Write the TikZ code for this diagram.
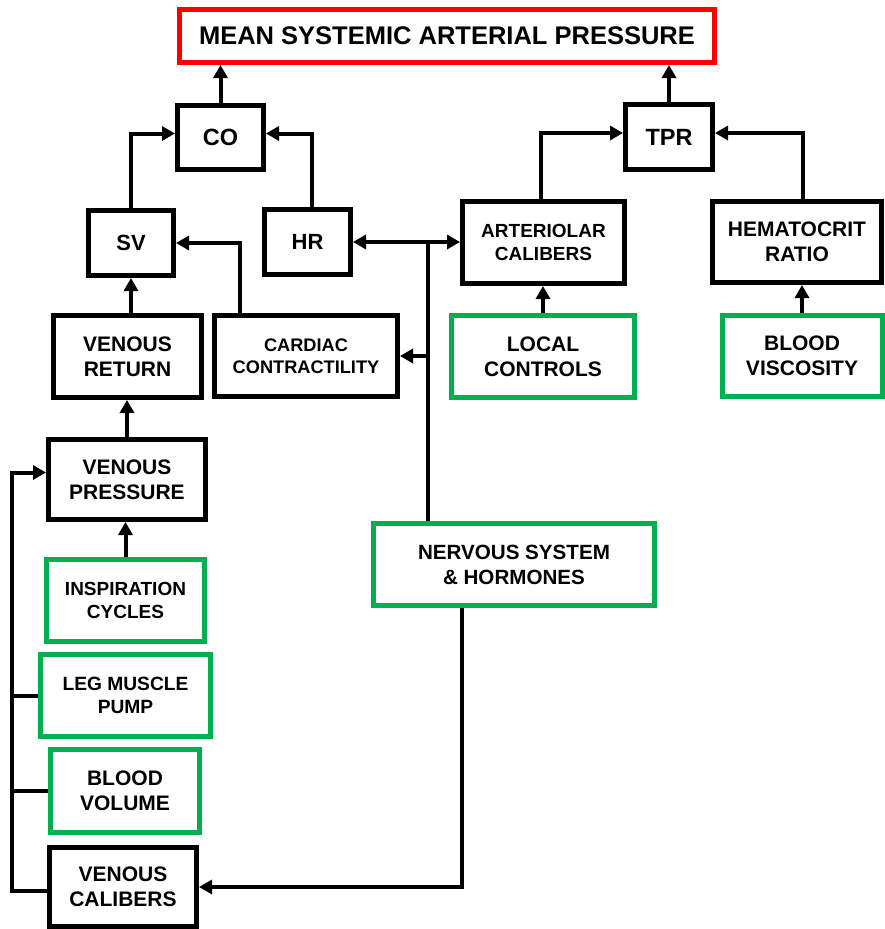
\documentclass[tikz,border=0pt]{standalone}
\usepackage{fontspec}
\setmainfont{Liberation Sans}
\usetikzlibrary{arrows.meta, positioning}

\definecolor{mapred}{RGB}{255,0,0}
\definecolor{ctrlgreen}{RGB}{0,176,80}

\begin{document}
\begin{tikzpicture}[
    x=1pt, y=-1pt,
    >={Triangle[length=13pt, width=14pt]},
    blackbox/.style={draw, line width=5pt, align=center, inner sep=0pt,
                     font=\bfseries\fontsize{21}{25}\selectfont},
    greenbox/.style={blackbox, draw=ctrlgreen},
    redbox/.style={blackbox, draw=mapred},
    link/.style={line width=4pt}
  ]
  \useasboundingbox (0,0) rectangle (885,929);

  \node[redbox, minimum width=535pt, minimum height=53pt,
        font=\bfseries\fontsize{25.5}{30}\selectfont] (map) at (447,36)
    {MEAN SYSTEMIC ARTERIAL PRESSURE};

  % cardiac output side
  \node[blackbox, minimum width=86pt, minimum height=64pt,
        font=\bfseries\fontsize{23.5}{28}\selectfont] (co) at (220.5,137.5) {CO};
  \node[blackbox, minimum width=85pt, minimum height=65pt,
        font=\bfseries\fontsize{22}{26}\selectfont] (sv) at (131,243) {SV};
  \node[blackbox, minimum width=86pt, minimum height=65pt,
        font=\bfseries\fontsize{22}{26}\selectfont] (hr) at (307.5,242) {HR};
  \node[blackbox, minimum width=148pt, minimum height=82pt] (vret) at (127.5,356.5)
    {VENOUS\\RETURN};
  \node[blackbox, minimum width=183pt, minimum height=81pt,
        font=\bfseries\fontsize{18.2}{22}\selectfont] (cardiac) at (306,356)
    {CARDIAC\\CONTRACTILITY};
  \node[blackbox, minimum width=157pt, minimum height=80pt] (vpress) at (127,479.5)
    {VENOUS\\PRESSURE};
  \node[greenbox, minimum width=158pt, minimum height=82pt,
        font=\bfseries\fontsize{19}{23}\selectfont] (insp) at (125.5,600.5)
    {INSPIRATION\\CYCLES};
  \node[greenbox, minimum width=170pt, minimum height=82pt,
        font=\bfseries\fontsize{19.2}{23}\selectfont] (leg) at (125.5,695.5)
    {LEG MUSCLE\\PUMP};
  \node[greenbox, minimum width=149pt, minimum height=83pt] (bvol) at (125,791)
    {BLOOD\\VOLUME};
  \node[blackbox, minimum width=147pt, minimum height=79pt] (vcal) at (123,887)
    {VENOUS\\CALIBERS};

  % resistance side
  \node[blackbox, minimum width=87pt, minimum height=65pt,
        font=\bfseries\fontsize{23.5}{28}\selectfont] (tpr) at (669,137) {TPR};
  \node[blackbox, minimum width=162pt, minimum height=82pt,
        font=\bfseries\fontsize{19}{23}\selectfont] (artcal) at (543.5,242.5)
    {ARTERIOLAR\\CALIBERS};
  \node[blackbox, minimum width=169pt, minimum height=81pt] (hemat) at (797,242)
    {HEMATOCRIT\\RATIO};
  \node[greenbox, minimum width=183pt, minimum height=82pt] (local) at (543,356.5)
    {LOCAL\\CONTROLS};
  \node[greenbox, minimum width=160pt, minimum height=81pt] (visc) at (802,356)
    {BLOOD\\VISCOSITY};
  \node[greenbox, minimum width=281pt, minimum height=82pt,
        font=\bfseries\fontsize{20.6}{25}\selectfont] (nerv) at (514,564.5)
    {NERVOUS SYSTEM\\\& HORMONES};

  \coordinate (nsplit) at (428,243);
  \coordinate (bus) at (12,0);

  % into MAP
  \draw[link, ->] (co.north) -- (co.north |- map.south);
  \draw[link, ->] (tpr.north) -- (tpr.north |- map.south);
  % into CO and TPR
  \draw[link, ->] (sv.north) |- ([yshift=4pt]co.west);
  \draw[link, ->] ([xshift=4pt]hr.north) |- ([yshift=4pt]co.east);
  \draw[link, ->] ([xshift=-3pt]artcal.north) |- ([yshift=4pt]tpr.west);
  \draw[link, ->] ([xshift=6pt]hemat.north) |- ([yshift=4pt]tpr.east);
  % into SV
  \draw[link, ->] (sv.south |- vret.north) -- (sv.south);
  \draw[link, ->] ([xshift=-66pt]cardiac.north) |- (sv.east);
  % nervous system branches
  \draw[link] (nsplit |- nerv.north) -- (nsplit);
  \draw[link, <->] (hr.east) -- (hr.east -| artcal.west);
  \draw[link, ->] (nsplit |- cardiac.east) -- (cardiac.east);
  \draw[link, ->] ([xshift=-52pt]nerv.south) |- (vcal.east);
  % local factors
  \draw[link, ->] (local.north) -- (local.north |- artcal.south);
  \draw[link, ->] (visc.north) -- (visc.north |- hemat.south);
  \draw[link, ->] (vpress.north) -- (vpress.north |- vret.south);
  \draw[link, ->] (insp.north) -- (insp.north |- vpress.south);
  % venous bus
  \draw[link, ->] ([yshift=-4pt]vcal.west) -- ([yshift=-4pt]vcal.west -| bus)
    |- ([yshift=7pt]vpress.west);
  \draw[link] (leg.west) -- (leg.west -| bus);
  \draw[link] (bvol.west) -- (bvol.west -| bus);
\end{tikzpicture}
\end{document}
